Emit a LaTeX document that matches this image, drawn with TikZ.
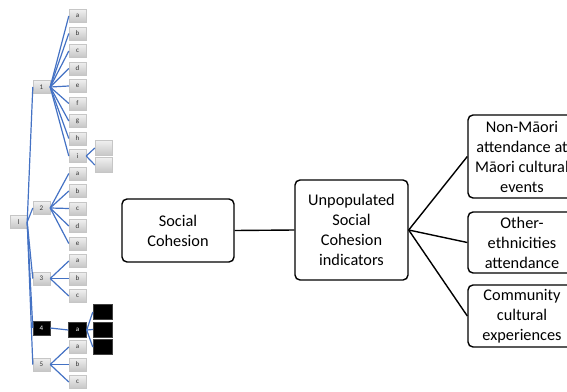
\documentclass[tikz,border=0pt]{standalone}
\usepackage{fontspec}
\setmainfont{Carlito}
\definecolor{treeblue}{RGB}{68,114,196}
\begin{document}
\begin{tikzpicture}[x=1pt,y=-1pt,
  sb/.style={draw=gray!45, top color=gray!12, bottom color=gray!45, minimum width=17pt, minimum height=13pt, inner sep=0pt, font=\fontsize{7}{7}\selectfont, text=gray!40!black},
  eb/.style={sb, minimum height=15pt},
  bb/.style={draw=gray!50!black, fill=black, minimum width=19pt, minimum height=15pt, inner sep=0pt, font=\fontsize{7}{7}\selectfont, text=white},
  bl/.style={draw=treeblue, line width=1.2pt},
  mb/.style={draw, line width=1.4pt, rounded corners=5pt, align=center, font=\fontsize{16.3}{20}\selectfont, inner sep=0pt},
  ml/.style={line width=1.4pt}]
\useasboundingbox (0,0) rectangle (567,391);
\clip (0,0) rectangle (567,391);

% tree
\node[sb] (r) at (18.5,222) {l};
\node[sb] (n1) at (41.5,87) {1};
\node[sb] (n2) at (41.5,208) {2};
\node[sb] (n3) at (41.5,278.5) {3};
\node[bb, minimum width=17pt, minimum height=14pt] (n4) at (41.5,328) {4};
\node[sb] (n5) at (41.5,364.5) {5};
\foreach \n in {n1,n2,n3,n4,n5} \draw[bl] (r.east) -- (\n.west);

\foreach \l/\y in {a/16,b/33.5,c/51,d/68.5,e/86,f/103.5,g/121,h/138.5,i/156} {
  \node[sb] (g1\l) at (77.5,\y) {\l};
  \draw[bl] (n1.east) -- (g1\l.west);
}
\foreach \l/\y in {a/173.5,b/191,c/208.5,d/226,e/243.5} {
  \node[sb] (g2\l) at (77.5,\y) {\l};
  \draw[bl] (n2.east) -- (g2\l.west);
}
\foreach \l/\y in {a/261,b/278.5,c/296} {
  \node[sb] (g3\l) at (77.5,\y) {\l};
  \draw[bl] (n3.east) -- (g3\l.west);
}
\node[bb, minimum width=18pt] (g4a) at (77.5,330) {a};
\draw[bl] (n4.east) -- (g4a.west);
\foreach \l/\y in {a/347,b/364.5,c/382} {
  \node[sb] (g5\l) at (77.5,\y) {\l};
  \draw[bl] (n5.east) -- (g5\l.west);
}
\node[eb] (x1) at (103.5,148) {};
\node[eb] (x2) at (103.5,165) {};
\draw[bl] (g1i.east) -- (x1.west);
\draw[bl] (g1i.east) -- (x2.west);
\node[bb] (k1) at (102.5,312) {};
\node[bb] (k2) at (102.5,329.5) {};
\node[bb] (k3) at (102.5,347) {};
\foreach \k in {k1,k2,k3} \draw[bl] (g4a.east) -- (\k.west);

% main diagram
\node[mb, minimum width=112pt, minimum height=63pt] (sc) at (178,230.5) {Social\\Cohesion};
\node[mb, minimum width=113pt, minimum height=100pt] (up) at (351.5,230) {Unpopulated\\Social\\Cohesion\\indicators};
\node[mb, minimum width=108pt, minimum height=83pt] (b1) at (522,156.5) {Non-Māori\\attendance at\\Māori cultural\\events};
\node[mb, minimum width=108pt, minimum height=61pt] (b2) at (522,242.5) {Other-\\ethnicities\\attendance};
\node[mb, minimum width=108pt, minimum height=62pt] (b3) at (522,316) {Community\\cultural\\experiences};
\draw[ml] (sc.east) -- (up.west);
\foreach \b in {b1,b2,b3} \draw[ml] (up.east) -- (\b.west);
\end{tikzpicture}
\end{document}
